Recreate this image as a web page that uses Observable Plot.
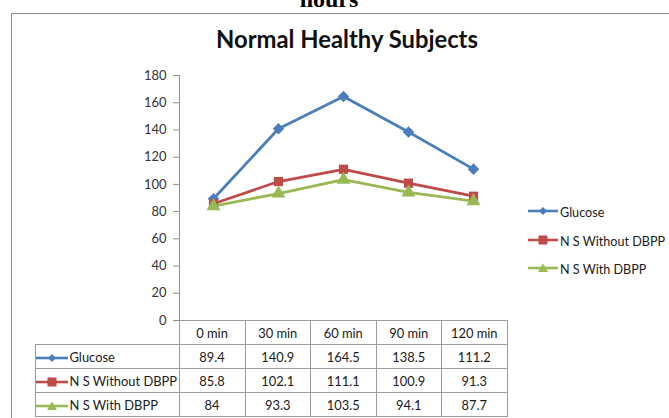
<!DOCTYPE html>
<html><head><meta charset="utf-8">
<script src="https://cdn.jsdelivr.net/npm/d3@7"></script>
<script src="https://cdn.jsdelivr.net/npm/@observablehq/plot@0.6"></script>
<style>
body{margin:0;width:669px;height:418px;overflow:hidden;position:relative;background:#fff;font-family:Lato,"Open Sans",sans-serif}
#hours{position:absolute;left:0;width:658px;text-align:center;top:-14px;font:bold 24px "Liberation Serif",serif;color:#000}
#frame{position:absolute;left:11px;top:13px;width:700px;height:500px;border:1px solid #8c8c8c}
#title{position:absolute;left:18px;width:658px;text-align:center;top:25px;font:bold 23.8px Lato,sans-serif;color:#111}
#chart{position:absolute;left:0;top:0}
#tbl{position:absolute;left:35px;top:320px;border-collapse:collapse;table-layout:fixed;width:472px;font:12.9px Lato,sans-serif;color:#1a1a1a}
#tbl td{border:1px solid #9a9a9a;text-align:center;padding:0;height:24px;white-space:nowrap;overflow:visible;box-sizing:border-box}
#tbl td.lab{text-align:left}
#tbl td.blank{border:none}
#legend{position:absolute;left:528px;top:205px;font:12.6px Lato,sans-serif;color:#1a1a1a;white-space:nowrap}
#legend div{height:28.5px;display:flex;align-items:flex-start}
</style></head>
<body>
<div id="hours">hours</div>
<div id="frame"></div>
<div id="title">Normal Healthy Subjects</div>
<div id="chart"></div>
<table id="tbl"><colgroup><col style="width:144px"><col style="width:66px"><col style="width:65.5px"><col style="width:65.5px"><col style="width:65.5px"><col style="width:65.5px"></colgroup><tbody id="tb"></tbody></table>
<div id="legend"></div>
<script>
const categories = ["0 min", "30 min", "60 min", "90 min", "120 min"];
const seriesNames = ["Glucose", "N S Without DBPP", "N S With DBPP"];
const glucose = [89.4, 140.9, 164.5, 138.5, 111.2];
const withoutDBPP = [85.8, 102.1, 111.1, 100.9, 91.3];
const withDBPP = [84, 93.3, 103.5, 94.1, 87.7];
const yTicks = [0, 20, 40, 60, 80, 100, 120, 140, 160, 180];

const colors = ["#4A7EBB", "#BE4B48", "#98B954"];
const symbols = ["diamond2", "square", "triangle"];
const seriesValues = [glucose, withoutDBPP, withDBPP];

const data = [];
seriesNames.forEach((s, i) => categories.forEach((c, j) => data.push({series: s, cat: c, value: seriesValues[i][j]})));

const plot = Plot.plot({
  width: 669, height: 418,
  marginLeft: 179, marginRight: 162, marginTop: 75, marginBottom: 98,
  style: {background: "transparent", fontFamily: "Lato, sans-serif", fontSize: "13px", color: "#404040"},
  x: {type: "point", domain: categories, padding: 0.5, axis: null},
  y: {domain: [0, 180], ticks: yTicks, label: null},
  color: {domain: seriesNames, range: colors},
  symbol: {domain: seriesNames, range: symbols},
  marks: [
    Plot.frame({anchor: "left", stroke: "#8c8c8c"}),
    Plot.axisY({ticks: yTicks, tickSize: 6, tickPadding: 7, stroke: "#8c8c8c", label: null, fill: "#333", fontSize: 13}),
    Plot.lineY(data, {x: "cat", y: "value", z: "series", stroke: "series", strokeWidth: 2.8}),
    Plot.dot(data, {x: "cat", y: "value", fill: "series", symbol: "series", r: 5.2, stroke: "none"})
  ]
});
document.getElementById("chart").appendChild(plot);

function markerSvg(i, w) {
  const c = colors[i];
  const cx = w / 2, cy = 6;
  let m;
  if (i === 0) m = `<path d="M${cx},${cy-4}L${cx+4},${cy}L${cx},${cy+4}L${cx-4},${cy}Z" fill="${c}"/>`;
  else if (i === 1) m = `<rect x="${cx-4.5}" y="${cy-4.5}" width="9" height="9" fill="${c}"/>`;
  else m = `<path d="M${cx},${cy-4.5}L${cx+5},${cy+4}L${cx-5},${cy+4}Z" fill="${c}"/>`;
  return `<svg width="${w}" height="12" style="vertical-align:middle;margin-right:2px"><line x1="0" x2="${w}" y1="${cy}" y2="${cy}" stroke="${c}" stroke-width="2.6"/>${m}</svg>`;
}

let html = `<tr><td class="blank lab"></td>` + categories.map(c => `<td>${c}</td>`).join("") + `</tr>`;
seriesNames.forEach((s, i) => {
  html += `<tr><td class="lab">${markerSvg(i, 32)}${s}</td>` + seriesValues[i].map(v => `<td>${v}</td>`).join("") + `</tr>`;
});
document.getElementById("tb").innerHTML = html;

// align table so its first data column starts at the plot's left edge
const tblEl = document.getElementById("tbl");
const firstCell = tblEl.rows[0].cells[1].getBoundingClientRect();
tblEl.style.left = (35 + (179 - firstCell.left)) + "px";

document.getElementById("legend").innerHTML = seriesNames.map((s, i) => `<div>${markerSvg(i, 30)}${s}</div>`).join("");
</script>
</body></html>
